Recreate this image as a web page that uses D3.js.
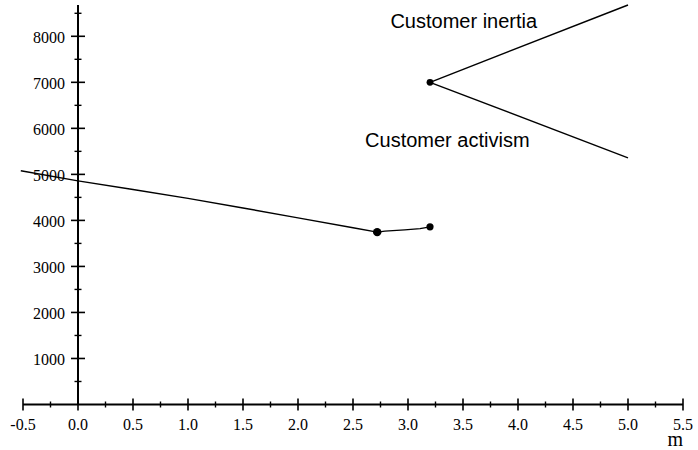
<!DOCTYPE html>
<html>
<head>
<meta charset="utf-8">
<script src="https://cdn.jsdelivr.net/npm/d3@7"></script>
<style>
  body { margin: 0; background: #fff; }
  .tick-label { font-family: "Liberation Serif", "Times New Roman", serif; font-size: 16px; fill: #000; }
  .note { font-family: "Liberation Sans", Arial, sans-serif; font-size: 20px; fill: #000; }
</style>
</head>
<body>
<svg id="chart"></svg>
<script>
const width = 698;
const height = 450;

// main curve (falls toward m = 2.72)
const mainX = [-0.52, 0, 0.5, 1.0, 1.5, 2.0, 2.5, 2.72];
const mainY = [5080, 4860, 4670, 4478, 4270, 4055, 3840, 3745];

// short link between the two dots
const linkX = [2.72, 2.79, 2.97, 3.11, 3.2];
const linkY = [3745, 3767, 3795, 3821, 3860];

// branches from the upper dot
const inertiaX = [3.2, 5.0];
const inertiaY = [7000, 8680];
const activismX = [3.2, 5.0];
const activismY = [7000, 5360];

const dotsX = [2.72, 3.2, 3.2];
const dotsY = [3745, 3860, 7000];
const dotsR = [4.2, 3.6, 3.4];

const xMajor = d3.range(-0.5, 5.51, 0.5);
const xMinor = d3.range(-0.25, 5.3, 0.5);
const yMajor = [1000, 2000, 3000, 4000, 5000, 6000, 7000, 8000];
const yMinor = [500, 1500, 2500, 3500, 4500, 5500, 6500, 7500, 8500];

const notes = [
  { text: 'Customer inertia', x: 2.84, y: 8174 },
  { text: 'Customer activism', x: 2.61, y: 5597 },
];

const svg = d3.select('#chart')
  .attr('width', width)
  .attr('height', height);

const x = d3.scaleLinear().domain([-0.5, 5.5]).range([23, 683]);
const y = d3.scaleLinear().domain([0, 8680]).range([404.5, 5]);

const zip = (xs, ys) => xs.map((v, i) => [v, ys[i]]);
const line = d3.line().x((d) => x(d[0])).y((d) => y(d[1]));

// Axes
const gAxes = svg.append('g').attr('stroke', '#000');
gAxes.append('line')
  .attr('x1', x(-0.5)).attr('x2', x(5.5))
  .attr('y1', y(0)).attr('y2', y(0))
  .attr('stroke-width', 2);
gAxes.append('line')
  .attr('x1', x(0)).attr('x2', x(0))
  .attr('y1', y(0)).attr('y2', y.range()[1])
  .attr('stroke-width', 2);

gAxes.selectAll('.xmaj').data(xMajor).join('line')
  .attr('x1', (d) => x(d)).attr('x2', (d) => x(d))
  .attr('y1', y(0) - 6).attr('y2', y(0) + 6)
  .attr('stroke-width', 1.6);
gAxes.selectAll('.xmin').data(xMinor).join('line')
  .attr('x1', (d) => x(d)).attr('x2', (d) => x(d))
  .attr('y1', y(0) - 3).attr('y2', y(0) + 3)
  .attr('stroke-width', 1.4);
gAxes.selectAll('.ymaj').data(yMajor).join('line')
  .attr('x1', x(0) - 7).attr('x2', x(0) + 7)
  .attr('y1', (d) => y(d)).attr('y2', (d) => y(d))
  .attr('stroke-width', 1.6);
gAxes.selectAll('.ymin').data(yMinor).join('line')
  .attr('x1', x(0) - 3.5).attr('x2', x(0) + 3.5)
  .attr('y1', (d) => y(d)).attr('y2', (d) => y(d))
  .attr('stroke-width', 1.4);

// Tick labels (plain hyphen for negatives, like the original)
const fmtX = (d) => d3.format('.1f')(d).replace('\u2212', '-');

svg.append('g').selectAll('text').data(xMajor).join('text')
  .attr('class', 'tick-label')
  .attr('text-anchor', 'middle')
  .attr('x', (d) => x(d))
  .attr('y', 430)
  .text(fmtX);

svg.append('g').selectAll('text').data(yMajor).join('text')
  .attr('class', 'tick-label')
  .attr('text-anchor', 'end')
  .attr('x', x(0) - 13)
  .attr('y', (d) => y(d))
  .attr('dy', '0.4em')
  .text((d) => d);

svg.append('text')
  .attr('class', 'tick-label')
  .attr('text-anchor', 'end')
  .attr('x', x(5.5))
  .attr('y', 446)
  .style('font-size', '20px')
  .text('m');

// Curves
const gLines = svg.append('g')
  .attr('fill', 'none')
  .attr('stroke', '#000')
  .attr('stroke-width', 1.4);
[zip(mainX, mainY), zip(linkX, linkY), zip(inertiaX, inertiaY), zip(activismX, activismY)]
  .forEach((pts) => gLines.append('path').attr('d', line(pts)));

svg.append('g').selectAll('circle').data(dotsX).join('circle')
  .attr('cx', (d) => x(d))
  .attr('cy', (d, i) => y(dotsY[i]))
  .attr('r', (d, i) => dotsR[i])
  .attr('fill', '#000');

svg.append('g').selectAll('text').data(notes).join('text')
  .attr('class', 'note')
  .attr('x', (d) => x(d.x))
  .attr('y', (d) => y(d.y))
  .text((d) => d.text);
</script>
</body>
</html>
